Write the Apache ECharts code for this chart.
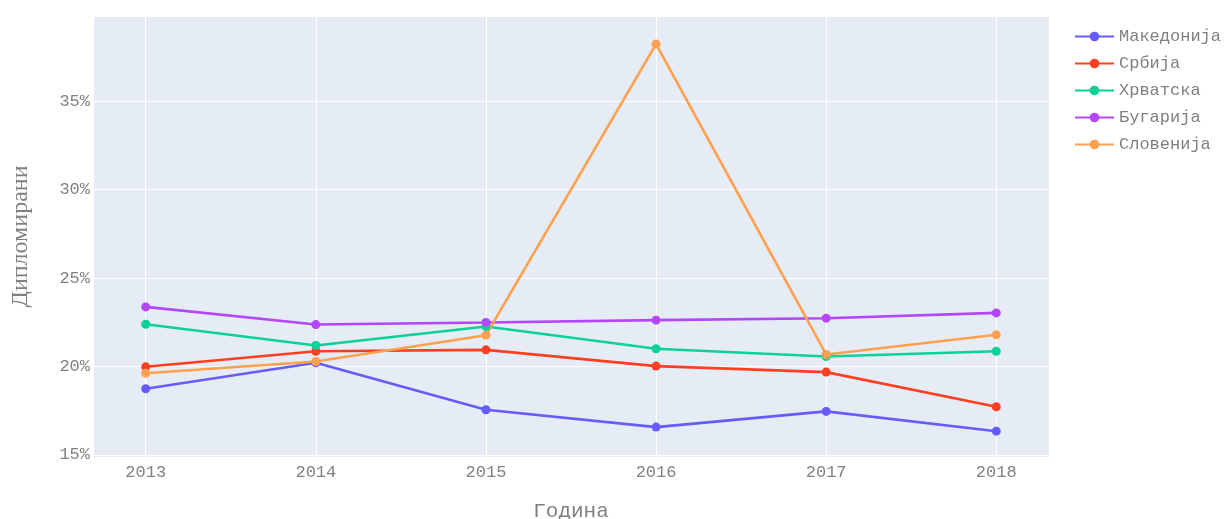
<!DOCTYPE html>
<html>
<head>
<meta charset="utf-8">
<script src="https://cdn.jsdelivr.net/npm/echarts@6/dist/echarts.min.js"></script>
<style>
html, body { margin: 0; padding: 0; background: #fff; }
#chart { width: 1228px; height: 519px; }
</style>
</head>
<body>
<div id="chart"></div>
<script>
const years = [2013, 2014, 2015, 2016, 2017, 2018]
const seriesNames = ['Македонија', 'Србија', 'Хрватска', 'Бугарија', 'Словенија']
const makedonija = [18.74, 20.21, 17.55, 16.57, 17.46, 16.34]
const srbija = [19.98, 20.86, 20.94, 20.02, 19.68, 17.72]
const hrvatska = [22.39, 21.19, 22.26, 21.0, 20.56, 20.86]
const bugarija = [23.37, 22.37, 22.49, 22.62, 22.73, 23.03]
const slovenija = [19.62, 20.28, 21.77, 38.23, 20.68, 21.79]
const colors = ['#665cfb', '#ff3f20', '#08d296', '#b446fb', '#ffa04e']

const font = 'Liberation Mono, Courier New, monospace'
const textColor = '#808080'

const chart = echarts.init(document.getElementById('chart'))
const allData = [makedonija, srbija, hrvatska, bugarija, slovenija]

const option = {
    animation: false,
    grid: {
        left: 93, right: 179, top: 16, bottom: 62,
        outerBoundsMode: 'none',
        containLabel: false,
        show: true, backgroundColor: '#E5ECF6', borderWidth: 0
    },
    legend: {
        orient: 'vertical',
        left: 1074, top: 28,
        padding: 0,
        itemWidth: 39, itemHeight: 12, itemGap: 10,
        textStyle: { fontFamily: font, fontSize: 17, color: textColor },
        data: seriesNames
    },
    xAxis: {
        type: 'value',
        min: 2012.69, max: 2018.31,
        name: 'Година',
        nameLocation: 'middle',
        nameGap: 44,
        nameTextStyle: { fontFamily: font, fontSize: 21, color: textColor, verticalAlign: 'top' },
        axisLine: { show: false },
        axisTick: { show: false },
        axisLabel: {
            margin: 7,
            fontFamily: font, fontSize: 17, color: textColor,
            formatter: v => Number.isInteger(v) ? String(v) : ''
        },
        splitLine: { show: true, lineStyle: { color: '#fff', width: 1 } }
    },
    yAxis: {
        type: 'value',
        min: 14.88, max: 39.82,
        name: 'Дипломирани',
        nameLocation: 'middle',
        nameGap: 60,
        nameRotate: 90,
        nameTextStyle: { fontFamily: 'Liberation Serif, serif', fontSize: 24, color: textColor },
        axisLine: { show: false },
        axisTick: { show: false },
        axisLabel: {
            margin: 3,
            fontFamily: font, fontSize: 17, color: textColor,
            formatter: v => (Math.abs(v % 5) < 1e-9) ? v + '%' : ''
        },
        splitLine: { show: true, lineStyle: { color: '#fff', width: 1 } }
    },
    series: seriesNames.map((name, i) => ({
        name: name,
        type: 'line',
        data: years.map((y, j) => [y, allData[i][j]]),
        symbol: 'circle',
        symbolSize: 9,
        lineStyle: { width: 2.6, color: colors[i] },
        itemStyle: { color: colors[i] }
    }))
}
chart.setOption(option)
</script>
</body>
</html>
